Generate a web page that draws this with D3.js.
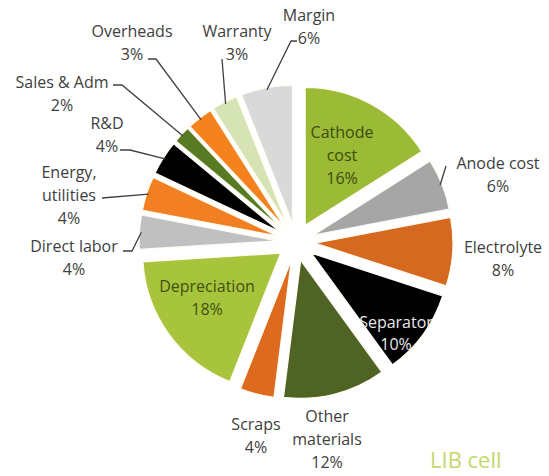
<!DOCTYPE html>
<html>
<head>
<meta charset="utf-8">
<script src="https://cdn.jsdelivr.net/npm/d3@7"></script>
<style>
  html, body { margin: 0; padding: 0; background: #fff; overflow: hidden; }
  svg { display: block; }
  text { font-family: "Open Sans", "DejaVu Sans", sans-serif; }
</style>
</head>
<body>
<svg id="chart" width="549" height="476"></svg>
<script>
// ---- data ----
const categories = ["Cathode cost", "Anode cost", "Electrolyte", "Separator", "Other materials",
  "Scraps", "Depreciation", "Direct labor", "Energy, utilities", "R&D", "Sales & Adm",
  "Overheads", "Warranty", "Margin"];
const values = [16, 6, 8, 10, 12, 4, 18, 4, 4, 4, 2, 3, 3, 6];
const labelLines = [["Cathode", "cost"], ["Anode cost"], ["Electrolyte"], ["Separator"],
  ["Other", "materials"], ["Scraps"], ["Depreciation"], ["Direct labor"],
  ["Energy,", "utilities"], ["R&D"], ["Sales & Adm"], ["Overheads"], ["Warranty"], ["Margin"]];
const titleText = "LIB cell";

// ---- styles / layout ----
const colors = ["#9bba35", "#a6a6a6", "#d5691f", "#000000", "#4f6424", "#dd6a1f", "#a8c43c",
  "#c0c0c0", "#f27f22", "#000000", "#587a22", "#f4821f", "#d5e3b5", "#d9d9d9"];
const textFill = ["#3c4d10", "#404040", "#404040", "#e8e8e8", "#404040", "#404040", "#3f5210",
  "#404040", "#404040", "#404040", "#404040", "#404040", "#404040", "#404040"];
// label anchor (first line center) and leader start points
const labelPos = [[342, 132], [498, 163], [503, 247], [396, 322], [327, 416], [256, 424],
  [207, 286], [74, 246], [69, 172], [107, 123], [62, 82], [132, 31], [237, 31], [309, 15]];
const leaderStart = [null, [[446, 166]], null, null, null, null, null,
  [[123, 251], [132, 251]], [[102, 198]], [[120, 150], [130, 150]], [[113, 85], [122, 85]],
  [[148, 59], [156, 59]], [[222, 59]], [[297, 41], [291, 41]]];

const cx = 296, cy = 242, R = 138, explode = 19, lineH = 23;

const svg = d3.select("#chart");
const pie = d3.pie().sort(null).value(d => d)(values);
const arc = d3.arc().innerRadius(0).outerRadius(R);
const g = svg.append("g").attr("transform", `translate(${cx},${cy})`);

function off(d, r) {
  const a = (d.startAngle + d.endAngle) / 2;
  return [Math.sin(a) * r, -Math.cos(a) * r];
}

g.selectAll("path.slice").data(pie).join("path")
  .attr("class", "slice")
  .attr("d", arc)
  .attr("transform", d => { const o = off(d, explode); return `translate(${o[0]},${o[1]})`; })
  .attr("fill", (d, i) => colors[i])
  .attr("stroke", "#fffdf2")
  .attr("stroke-width", 1.2);

// leader lines
const line = d3.line();
pie.forEach((d, i) => {
  if (!leaderStart[i]) return;
  const end = off(d, R + explode - 2);
  const pts = leaderStart[i].map(p => [p[0] - cx, p[1] - cy]).concat([end]);
  g.append("path").attr("d", line(pts)).attr("fill", "none")
    .attr("stroke", "#404040").attr("stroke-width", 1.3);
});

// labels
pie.forEach((d, i) => {
  const lines = labelLines[i].concat([values[i] + "%"]);
  const t = svg.append("text")
    .attr("x", labelPos[i][0]).attr("y", labelPos[i][1])
    .attr("text-anchor", "middle")
    .attr("font-size", 16)
    .attr("fill", textFill[i]);
  lines.forEach((s, k) => {
    t.append("tspan").attr("x", labelPos[i][0])
      .attr("dy", k === 0 ? "0.35em" : (i === 3 ? 22 : lineH)).text(s);
  });
});

svg.append("text").attr("x", 430).attr("y", 468)
  .attr("font-size", 22).attr("fill", "#c3d86a").text(titleText);
</script>
</body>
</html>
